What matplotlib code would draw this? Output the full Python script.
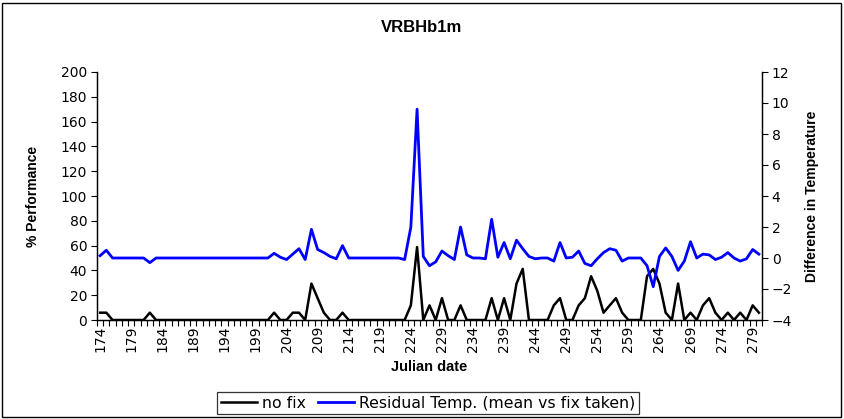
import matplotlib.pyplot as plt
import numpy as np
from matplotlib.patches import Rectangle
from matplotlib.ticker import MultipleLocator

plt.rcParams['font.family'] = ['Liberation Sans', 'DejaVu Sans']

# Julian days 174..280
days = np.arange(174, 281)

# % performance with no fix (left axis)
no_fix = [
    5.9, 5.9, 0, 0, 0, 0, 0, 0, 5.9, 0,                 # 174-183
    0, 0, 0, 0, 0, 0, 0, 0, 0, 0,                       # 184-193
    0, 0, 0, 0, 0, 0, 0, 0, 5.9, 0,                     # 194-203
    0, 5.9, 5.9, 0, 29.4, 17.6, 5.9, 0, 0, 5.9,         # 204-213
    0, 0, 0, 0, 0, 0, 0, 0, 0, 0,                       # 214-223
    11.8, 58.8, 0, 11.8, 0, 17.6, 0, 0, 11.8, 0,        # 224-233
    0, 0, 0, 17.6, 0, 17.6, 0, 29.4, 41.2, 0,           # 234-243
    0, 0, 0, 11.8, 17.6, 0, 0, 11.8, 17.6, 35.3,        # 244-253
    23.5, 5.9, 11.8, 17.6, 5.9, 0, 0, 0, 35.3, 41.2,    # 254-263
    29.4, 5.9, 0, 29.4, 0, 5.9, 0, 11.8, 17.6, 5.9,     # 264-273
    0, 5.9, 0, 5.9, 0, 11.8, 5.9,                       # 274-280
]

# residual temperature, mean vs fix taken (right axis)
residual = [
    0.15, 0.5, 0, 0, 0, 0, 0, 0, -0.3, 0,                   # 174-183
    0, 0, 0, 0, 0, 0, 0, 0, 0, 0,                           # 184-193
    0, 0, 0, 0, 0, 0, 0, 0, 0.3, 0.05,                      # 194-203
    -0.1, 0.25, 0.6, -0.1, 1.85, 0.55, 0.35, 0.1, -0.05, 0.8,  # 204-213
    0, 0, 0, 0, 0, 0, 0, 0, 0, -0.1,                        # 214-223
    2.0, 9.6, 0.1, -0.5, -0.25, 0.45, 0.15, -0.1, 2.0, 0.2,   # 224-233
    0, 0, -0.05, 2.5, 0.05, 1.0, -0.05, 1.15, 0.6, 0.1,      # 234-243
    -0.05, 0, 0, -0.2, 1.0, 0, 0.05, 0.45, -0.35, -0.5,      # 244-253
    -0.05, 0.35, 0.6, 0.5, -0.2, 0, 0, 0, -0.5, -1.85,       # 254-263
    0.1, 0.65, 0.1, -0.8, -0.2, 1.05, 0, 0.25, 0.2, -0.1,    # 264-273
    0.05, 0.35, 0, -0.2, -0.05, 0.55, 0.25,                  # 274-280
]

tick_days = np.arange(174, 281, 5)

W, H = 845, 419
fig = plt.figure(figsize=(W / 100, H / 100), dpi=100)
ax = fig.add_axes([97 / W, 1 - 320 / H, 665 / W, 248 / H])
ax2 = ax.twinx()

# outer chart border
fig.patches.append(Rectangle((2 / W, 2 / H), 839 / W, 414 / H,
                             transform=fig.transFigure, fill=False,
                             edgecolor='black', linewidth=1.0))

l1, = ax.plot(days, no_fix, color='black', linewidth=1.8,
              solid_joinstyle='round', label='no fix')
l2, = ax2.plot(days, residual, color='#0000FF', linewidth=2.0,
               solid_joinstyle='round', label='Residual Temp. (mean vs fix taken)')

ax.set_xlim(173.5, 280.5)
ax.set_ylim(0, 200)
ax2.set_ylim(-4, 12)

tick_font = {'family': 'DejaVu Sans', 'size': 10}
ax.yaxis.set_major_locator(MultipleLocator(20))
ax2.yaxis.set_major_locator(MultipleLocator(2))
ax.set_xticks(tick_days)
ax.set_xticklabels([str(d) for d in tick_days], rotation=90, fontdict=tick_font)
ax.set_xticks(np.arange(173.5, 281, 1), minor=True)
ax.tick_params(axis='x', which='major', length=0, pad=4)
ax.tick_params(axis='x', which='minor', length=4, width=0.8, direction='out')
ax.tick_params(axis='y', length=4, width=0.8, direction='out', pad=3)
ax2.tick_params(axis='y', length=4, width=0.8, direction='out', pad=3)
for lab in ax.get_yticklabels() + ax2.get_yticklabels():
    lab.set_fontfamily('DejaVu Sans')
    lab.set_fontsize(10)

for a in (ax, ax2):
    a.spines['top'].set_visible(False)
    for s in ('left', 'right', 'bottom'):
        a.spines[s].set_linewidth(0.9)

fig.text(422 / W, 1 - 28 / H, 'VRBHb1m', fontsize=12, fontweight='bold',
         ha='center', va='center')
ax.set_xlabel('Julian date', fontsize=10.5, fontweight='bold')
ax.xaxis.set_label_coords(0.5, (320 - 360) / 248)
ax.set_ylabel('% Performance', fontsize=10, fontweight='bold')
ax.yaxis.set_label_coords((40 - 97) / 665, 0.5)
ax2.set_ylabel('Difference in Temperature', fontsize=10, fontweight='bold')
ax2.yaxis.set_label_coords((805 - 97) / 665, 0.5)

leg = fig.legend(handles=[l1, l2], loc='center', bbox_to_anchor=(428 / W, 1 - 403 / H),
                 ncol=2, prop={'family': 'DejaVu Sans', 'size': 11.3},
                 frameon=True, fancybox=False,
                 handlelength=2.3, handletextpad=0.3, columnspacing=0.8,
                 borderpad=0.25, borderaxespad=0)
leg.get_frame().set_edgecolor('black')
leg.get_frame().set_linewidth(0.9)

fig.savefig('out.png', dpi=100)
